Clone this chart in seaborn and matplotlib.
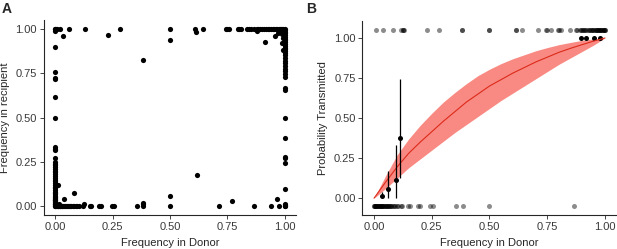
import pandas as pd
import seaborn as sns
import matplotlib.pyplot as plt

# ---- panel A: donor vs recipient frequency ----
top_row_donor = [0.0, 0.0, 0.003, 0.006, 0.022, 0.061, 0.13, 0.282, 0.499, 0.61, 0.643,
                 0.744, 0.75, 0.756, 0.795, 0.803, 0.81, 0.838, 0.846, 0.853, 0.868, 0.878,
                 0.886, 0.894, 0.902, 0.91, 0.918, 0.926, 0.934, 0.942, 0.95, 0.956, 0.962,
                 0.968, 0.974, 0.98, 0.985, 0.99, 0.995, 1.0]
bottom_row_donor = [0.0, 0.003, 0.006, 0.009, 0.012, 0.015, 0.018, 0.021, 0.024, 0.027, 0.03,
                    0.034, 0.038, 0.042, 0.046, 0.05, 0.055, 0.06, 0.065, 0.07, 0.076, 0.082,
                    0.088, 0.095, 0.102, 0.12, 0.149, 0.155, 0.192, 0.198, 0.247, 0.256,
                    0.354, 0.383, 0.501, 0.715, 0.868, 0.939, 0.975, 1.0]
left_col_recip = [0.003, 0.006, 0.01, 0.014, 0.018, 0.022, 0.027, 0.032, 0.037, 0.042, 0.048,
                  0.054, 0.06, 0.067, 0.074, 0.082, 0.09, 0.1, 0.11, 0.12, 0.13, 0.14, 0.15,
                  0.16, 0.17, 0.18, 0.19, 0.2, 0.21, 0.22, 0.23, 0.24, 0.25, 0.27, 0.315,
                  0.325, 0.335, 0.5, 0.615, 0.715, 0.725, 0.755, 0.9, 0.99]
right_col_recip = [0.0, 0.01, 0.095, 0.245, 0.27, 0.28, 0.385, 0.5, 0.655, 0.665, 0.73, 0.745,
                   0.76, 0.775, 0.79, 0.805, 0.82, 0.835, 0.85, 0.865, 0.875, 0.885, 0.895,
                   0.905, 0.915, 0.925, 0.935, 0.945, 0.955, 0.965, 0.975, 0.985, 0.995]
other_donor = [0.033, 0.228, 0.499, 0.383, 0.614, 0.913, 0.96, 0.97, 0.88, 0.985, 0.99, 0.993,
               0.995, 0.99, 0.008, 0.012, 0.004, 0.015, 0.01, 0.036, 0.082, 0.123, 0.383,
               0.383, 0.501, 0.617, 0.769, 0.965, 1.0]
other_recip = [0.958, 0.968, 0.9375, 0.824, 0.98, 0.924, 0.96, 0.975, 0.99, 0.985, 0.97, 0.95,
               0.88, 0.92, 0.008, 0.004, 0.012, 0.01, 0.12, 0.038, 0.076, 0.01, 0.02,
               0.01, 0.06, 0.175, 0.03, 0.04, 0.005]

# ---- panel B: transmission probability ----
transmitted_donor = [0.009, 0.038, 0.084, 0.117, 0.124, 0.124, 0.13, 0.23, 0.283, 0.382, 0.382,
                     0.499, 0.499, 0.613, 0.613, 0.642, 0.711, 0.743, 0.748, 0.766, 0.798,
                     0.80, 0.81, 0.848, 0.874, 0.877, 0.89, 0.895, 0.9, 0.905, 0.91, 0.915,
                     0.92, 0.925, 0.93, 0.935, 0.94, 0.945, 0.95, 0.955, 0.96, 0.965, 0.97,
                     0.975, 0.98, 0.985, 0.99, 0.995, 1.0, 0.95, 0.96, 0.97, 0.98, 0.99, 1.0,
                     0.985, 0.995]
lost_donor = [0.0, 0.003, 0.006, 0.009, 0.012, 0.015, 0.018, 0.021, 0.024, 0.027, 0.03, 0.033,
              0.036, 0.04, 0.044, 0.048, 0.052, 0.056, 0.06, 0.065, 0.07, 0.075, 0.08, 0.086,
              0.092, 0.098, 0.104, 0.0, 0.005, 0.01, 0.02, 0.03, 0.04, 0.05, 0.062, 0.075,
              0.117, 0.12, 0.149, 0.157, 0.192, 0.199, 0.241, 0.254, 0.355, 0.384, 0.499, 0.867]
bin_donor = [0.036, 0.061, 0.095, 0.113, 0.896, 0.916, 0.952, 0.978]
bin_prob = [0.016, 0.058, 0.112, 0.373, 1.0, 1.0, 1.0, 1.0]
bin_lo = [0.0, 0.0, 0.0, 0.124, 1.0, 1.0, 1.0, 1.0]
bin_hi = [0.04, 0.17, 0.33, 0.747, 1.0, 1.0, 1.0, 1.0]

fit_donor = [0.0, 0.05, 0.1, 0.15, 0.2, 0.25, 0.3, 0.35, 0.4, 0.45, 0.5,
             0.55, 0.6, 0.65, 0.7, 0.75, 0.8, 0.85, 0.9, 0.95, 1.0]
fit_prob = [0.0, 0.10, 0.195, 0.28, 0.35, 0.415, 0.48, 0.54, 0.60, 0.65, 0.70,
            0.74, 0.78, 0.815, 0.85, 0.88, 0.91, 0.935, 0.958, 0.98, 1.0]
fit_lo = [0.0, 0.06, 0.125, 0.19, 0.245, 0.30, 0.355, 0.41, 0.46, 0.51, 0.56,
          0.61, 0.655, 0.70, 0.745, 0.79, 0.835, 0.875, 0.915, 0.955, 1.0]
fit_hi = [0.0, 0.14, 0.27, 0.37, 0.455, 0.53, 0.60, 0.66, 0.715, 0.765, 0.805,
          0.84, 0.87, 0.895, 0.92, 0.94, 0.958, 0.972, 0.985, 0.994, 1.0]

ticks = [0.0, 0.25, 0.5, 0.75, 1.0]
tick_labels = ['0.00', '0.25', '0.50', '0.75', '1.00']

sns.set_style('ticks')
plt.rcParams['font.family'] = ['Liberation Sans', 'DejaVu Sans']

df_a = pd.DataFrame({
    'donor': top_row_donor + bottom_row_donor + [0.0] * len(left_col_recip)
             + [1.0] * len(right_col_recip) + other_donor,
    'recip': [1.0] * len(top_row_donor) + [0.0] * len(bottom_row_donor) + left_col_recip
             + right_col_recip + other_recip,
})
df_b = pd.DataFrame({
    'donor': transmitted_donor + lost_donor,
    'outcome': [1.05] * len(transmitted_donor) + [-0.05] * len(lost_donor),
})

fig = plt.figure(figsize=(6.17, 2.49), dpi=100)
ax_a = fig.add_axes([0.0713, 0.1365, 0.4084, 0.783])
ax_b = fig.add_axes([0.5875, 0.1365, 0.4117, 0.7785])

sns.scatterplot(data=df_a, x='donor', y='recip', ax=ax_a, color='black', s=14, linewidth=0)
ax_a.set_xlim(-0.05, 1.05)
ax_a.set_ylim(-0.05, 1.05)
ax_a.set_xlabel('Frequency in Donor')
ax_a.set_ylabel('Frequency in recipient')

ax_b.fill_between(fit_donor, fit_lo, fit_hi, color='#F8766D', alpha=0.85, linewidth=0)
sns.lineplot(x=fit_donor, y=fit_prob, ax=ax_b, color='#DC2A1A', linewidth=0.8)
sns.scatterplot(data=df_b, x='donor', y='outcome', ax=ax_b, color='black', alpha=0.45,
                s=13, linewidth=0)
ax_b.vlines(bin_donor, bin_lo, bin_hi, color='black', linewidth=0.9)
sns.scatterplot(x=bin_donor, y=bin_prob, ax=ax_b, color='black', s=13, linewidth=0)
ax_b.set_xlim(-0.05, 1.05)
ax_b.set_ylim(-0.105, 1.105)
ax_b.set_xlabel('Frequency in Donor')
ax_b.set_ylabel('Probability Transmitted')

for ax in (ax_a, ax_b):
    sns.despine(ax=ax)
    ax.set_xticks(ticks, tick_labels)
    ax.set_yticks(ticks, tick_labels)
    ax.tick_params(labelsize=8, labelcolor='#3A3A3A', length=3, width=0.6, pad=2)
    ax.xaxis.label.set_size(8)
    ax.yaxis.label.set_size(8)
    for side in ('left', 'bottom'):
        ax.spines[side].set_linewidth(0.8)

fig.text(0.003, 0.99, 'A', fontsize=10, fontweight='bold', va='top')
fig.text(0.496, 0.99, 'B', fontsize=10, fontweight='bold', va='top')

fig.savefig('out.png', dpi=100)
